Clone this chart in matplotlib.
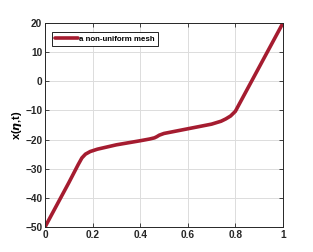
import numpy as np
import matplotlib.pyplot as plt

plt.rcParams['font.family'] = ['Liberation Sans', 'DejaVu Sans']
plt.rcParams['font.weight'] = 'bold'

# values
eta = [0.0, 0.10, 0.14, 0.155, 0.17, 0.19, 0.22, 0.30, 0.40, 0.44, 0.46,
       0.47, 0.48, 0.50, 0.60, 0.70, 0.74, 0.76, 0.78, 0.79, 0.80, 1.0]
xval = [-50.0, -34.8, -28.5, -26.3, -25.0, -24.1, -23.3, -21.8, -20.4, -19.8, -19.4,
        -19.0, -18.5, -17.9, -16.3, -14.7, -13.7, -12.9, -11.9, -11.1, -10.3, 20.0]
xticks = [0, 0.2, 0.4, 0.6, 0.8, 1]
yticks = [-50, -40, -30, -20, -10, 0, 10, 20]

fig = plt.figure(figsize=(3.13, 2.52), dpi=100)
ax = fig.add_axes([0.1438, 0.0992, 0.7602, 0.8095])
ax.plot(eta, xval, color='#A51C30', lw=2.6, solid_capstyle='round',
        solid_joinstyle='round', label='a non-uniform mesh')

ax.set_xlim(0, 1)
ax.set_ylim(-50, 20)
ax.set_xticks(xticks)
ax.set_xticklabels(['0', '0.2', '0.4', '0.6', '0.8', '1'])
ax.set_yticks(yticks)
ax.grid(True, color='#dcdcdc', lw=0.7)
ax.tick_params(direction='in', top=True, right=True, labelsize=7.3,
               length=3, width=0.6, colors='#262626', pad=2)
for s in ax.spines.values():
    s.set_color('#262626')
    s.set_linewidth(0.7)
ax.set_ylabel(r'x($\eta$,t)', fontsize=8, fontweight='bold')
ax.yaxis.set_label_coords(-0.09, 0.5)

leg = ax.legend(loc='upper left', fontsize=5.7, handlelength=2.9,
                borderpad=0.4, handletextpad=0.1, fancybox=False,
                framealpha=1, bbox_to_anchor=(0.03, 0.955), borderaxespad=0)
leg.get_frame().set_edgecolor('black')
leg.get_frame().set_linewidth(0.6)

fig.savefig('out.png', dpi=100)
